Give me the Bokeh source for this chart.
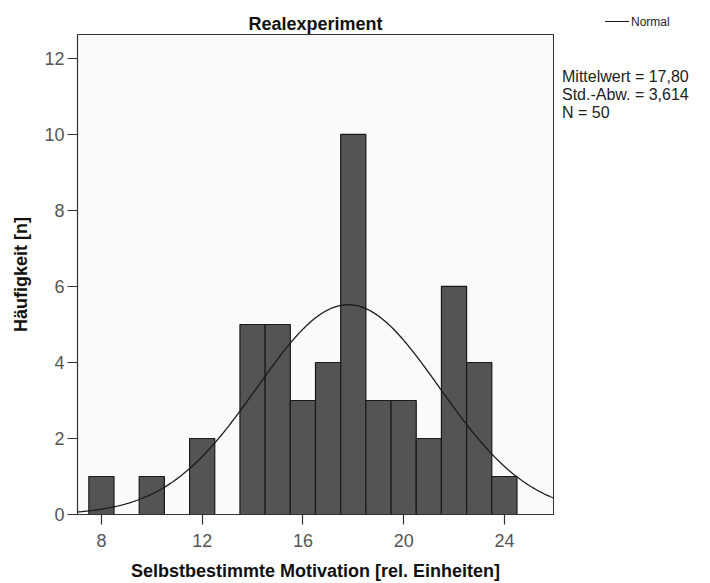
import numpy as np
from bokeh.plotting import figure
from bokeh.layouts import row
from bokeh.models import FixedTicker, Range1d, Div
from bokeh.embed import file_html
from bokeh.resources import INLINE

# ---- data ----
bin_centers = [8, 10, 12, 14, 15, 16, 17, 18, 19, 20, 21, 22, 23, 24]
counts = [1, 1, 2, 5, 5, 3, 4, 10, 3, 3, 2, 6, 4, 1]
bin_width = 1.0
mean_value = 17.80
std_value = 3.614
n_value = 50
x_ticks = [8, 12, 16, 20, 24]
y_ticks = [0, 2, 4, 6, 8, 10, 12]
stats_lines = ["Mittelwert = 17,80", "Std.-Abw. = 3,614", "N = 50"]
legend_label = "Normal"

FONT = "Liberation Sans"
X0, X1 = 7.05, 25.95
Y0, Y1 = 0.0, 12.63

H = 583
BL, BT, BB = 77, 34, 69
FW = 476
MAIN_W = BL + FW + 2
SIDE_W = 710 - MAIN_W

p = figure(width=MAIN_W, height=H, output_backend="svg", toolbar_location=None,
           x_range=Range1d(X0, X1), y_range=Range1d(Y0, Y1),
           min_border_left=BL, min_border_right=2, min_border_top=BT, min_border_bottom=BB,
           title="Realexperiment")

p.background_fill_color = "#fafafa"
p.border_fill_color = "white"
p.outline_line_color = "#333333"
p.outline_line_width = 1
p.grid.visible = False

p.title.align = "center"
p.title.text_font = FONT
p.title.text_font_size = "18px"
p.title.text_font_style = "bold"
p.title.text_color = "#111111"
p.title.standoff = 1

centers = np.array(bin_centers, dtype=float)
p.quad(left=centers - bin_width / 2, right=centers + bin_width / 2, bottom=0, top=counts,
       fill_color="#545454", line_color="#1a1a1a", line_width=1.2)

xs = np.linspace(X0, X1, 400)
ys = n_value * bin_width * np.exp(-0.5 * ((xs - mean_value) / std_value) ** 2) / (std_value * np.sqrt(2 * np.pi))
p.line(xs, ys, line_color="#1a1a1a", line_width=1.3)

for ax in (p.xaxis[0], p.yaxis[0]):
    ax.axis_line_color = "#333333"
    ax.axis_line_width = 1.2
    ax.major_tick_line_color = "#333333"
    ax.major_tick_line_width = 1.2
    ax.major_tick_out = 10
    ax.major_tick_in = 0
    ax.minor_tick_line_color = None
    ax.major_label_text_font = FONT
    ax.major_label_text_font_size = "18px"
    ax.major_label_text_color = "#555555"
    ax.axis_label_text_font = FONT
    ax.axis_label_text_font_size = "18px"
    ax.axis_label_text_font_style = "bold"
    ax.axis_label_text_color = "#111111"

p.xaxis.ticker = FixedTicker(ticks=x_ticks)
p.yaxis.ticker = FixedTicker(ticks=y_ticks)
p.xaxis.axis_label = "Selbstbestimmte Motivation [rel. Einheiten]"
p.yaxis.axis_label = "Häufigkeit [n]"
p.xaxis.major_label_standoff = 9
p.xaxis.axis_label_standoff = 11
p.yaxis.major_label_standoff = 3
p.yaxis.axis_label_standoff = 10

# ---- side panel: legend and statistics as text ----
stats_html = "".join(
    f'<div style="position:absolute;left:{562 - MAIN_W}px;top:{68 + 18 * i}px;font-size:16px;'
    f'line-height:18px;white-space:nowrap;">{line}</div>'
    for i, line in enumerate(stats_lines)
)
side_html = (
    f'<div style="position:relative;width:{SIDE_W}px;height:{H}px;'
    f'font-family:\'{FONT}\';color:#222222;background:white;">'
    f'<div style="position:absolute;left:{605 - MAIN_W}px;top:21px;width:24px;'
    f'height:0;border-top:1.3px solid #1a1a1a;"></div>'
    f'<div style="position:absolute;left:{631 - MAIN_W}px;top:15px;font-size:12px;'
    f'line-height:14px;white-space:nowrap;">{legend_label}</div>'
    f'{stats_html}'
    f'</div>'
)
side = Div(text=side_html, width=SIDE_W, height=H, margin=0)

layout = row(p, side, spacing=0)
open("out.html", "w").write(file_html(layout, INLINE))
